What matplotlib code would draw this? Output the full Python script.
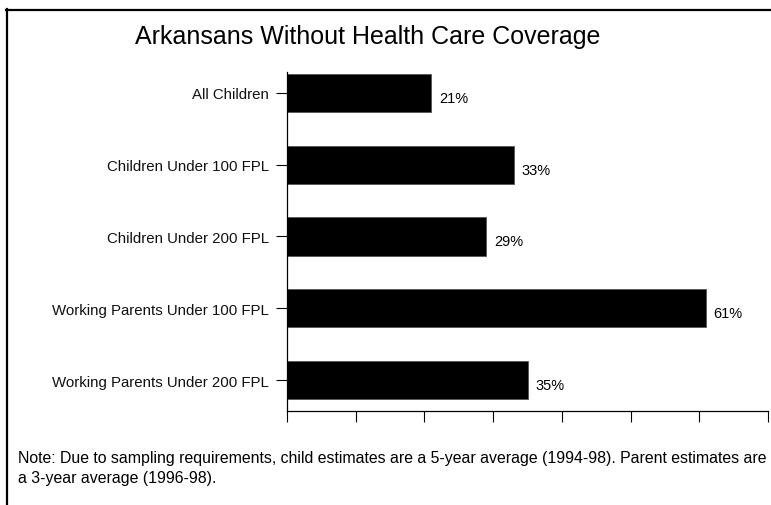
import matplotlib.pyplot as plt
from matplotlib.lines import Line2D

plt.rcParams['font.family'] = ['Liberation Sans', 'DejaVu Sans']

# data
groups = ['All Children', 'Children Under 100 FPL', 'Children Under 200 FPL',
          'Working Parents Under 100 FPL', 'Working Parents Under 200 FPL']
pct = [21, 33, 29, 61, 35]

title = 'Arkansans Without Health Care Coverage'
note = ('Note: Due to sampling requirements, child estimates are a 5-year average (1994-98). Parent estimates are\n'
        'a 3-year average (1996-98).')

W, H = 771, 506
fig = plt.figure(figsize=(W / 100, H / 100), dpi=100)
ax = fig.add_axes([287 / W, 94 / H, 481 / W, 339 / H])

pos = list(range(len(groups)))
ax.barh(pos, pct, height=0.53, color='black', edgecolor='#555555', linewidth=0.6)

for p, v in zip(pos, pct):
    ax.text(v + 1.1, p + 0.07, f'{v}%', va='center', ha='left', fontsize=10.5)

ax.set_xlim(0, 70)
ax.set_ylim(4.43, -0.29)
ax.set_xticks(range(0, 71, 10))
ax.set_xticklabels([])
ax.set_yticks(pos)
ax.set_yticklabels(groups, fontsize=10.8, color='#111111')
ax.tick_params(axis='y', length=8, width=0.8, pad=5)
ax.tick_params(axis='x', length=8, width=0.8)

for s in ['top', 'right']:
    ax.spines[s].set_visible(False)
ax.spines['left'].set_linewidth(0.9)
ax.spines['bottom'].set_linewidth(0.9)

fig.text(368 / W, 1 - 37 / H, title, ha='center', va='center', fontsize=18)
fig.text(18 / W, 1 - 451 / H, note, ha='left', va='top', fontsize=11.4, linespacing=1.38)

# frame lines at left and top
fig.add_artist(Line2D([6.5 / W, 6.5 / W], [0, 1 - 10 / H], color='black', linewidth=1.6))
fig.add_artist(Line2D([6 / W, 1], [1 - 10.5 / H, 1 - 10.5 / H], color='black', linewidth=1.6))

fig.savefig('out.png', dpi=100)
